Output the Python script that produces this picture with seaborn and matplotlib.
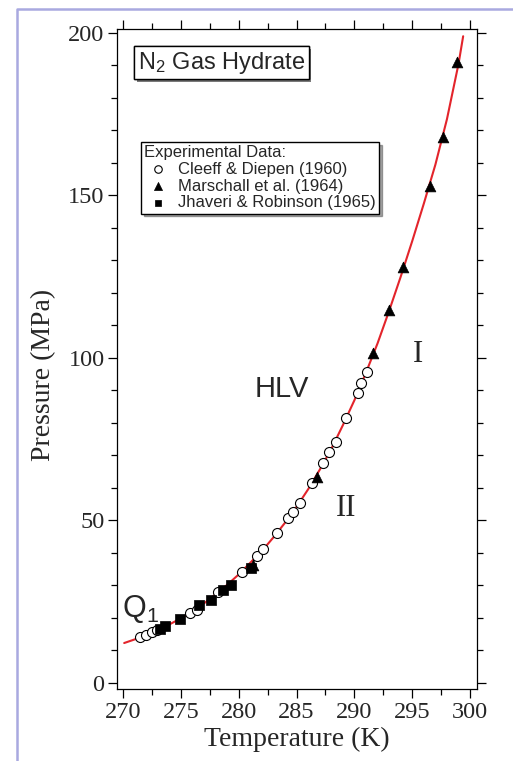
import seaborn as sns
import matplotlib.pyplot as plt
import matplotlib.patheffects as pe
from matplotlib.lines import Line2D
from matplotlib.ticker import MultipleLocator

# equilibrium curve
curve_T = [270.1, 271, 272, 273, 274, 275, 276, 277, 278, 279, 280, 281, 282, 283, 284, 285,
           286, 287, 288, 289, 290, 291, 292, 293, 294, 295, 296, 297, 298, 299, 299.4]
curve_P = [12.3, 13.4, 14.7, 16.3, 18.0, 19.9, 21.9, 24.5, 27.3, 30.2, 33.4, 37.0, 40.6, 44.8, 49.3, 54.2,
           59.6, 65.6, 72.0, 79.3, 87.0, 95.5, 104.5, 114.5, 125.0, 136.0, 147.5, 159.5, 173.5, 190.5, 199.0]

# Cleeff & Diepen (1960)
cleeff_T = [271.5, 272.0, 272.5, 272.9, 275.8, 276.4, 278.2, 280.3, 281.6, 282.1, 283.3, 284.3,
            284.7, 285.3, 286.3, 287.3, 287.8, 288.4, 289.3, 290.3, 290.6, 291.1]
cleeff_P = [14.0, 14.8, 15.7, 16.3, 21.5, 22.5, 28.1, 34.2, 39.1, 41.1, 46.1, 50.7,
            52.5, 55.5, 61.4, 67.6, 71.2, 74.3, 81.4, 89.2, 92.3, 95.8]

# Marschall et al. (1964)
marsch_T = [281.2, 286.8, 291.6, 293.0, 294.2, 296.5, 297.7, 298.9]
marsch_P = [36.3, 63.4, 101.5, 114.8, 128.0, 152.9, 168.0, 191.1]

# Jhaveri & Robinson (1965)
jhav_T = [273.2, 273.6, 274.9, 276.6, 277.6, 278.6, 279.3, 281.1]
jhav_P = [16.6, 17.5, 19.7, 24.0, 25.5, 28.6, 30.3, 35.5]

sns.set_style("ticks")
plt.rcParams['font.family'] = ['Liberation Serif', 'DejaVu Serif']
plt.rcParams['mathtext.default'] = 'regular'

fig = plt.figure(figsize=(5.13, 7.61), dpi=100)
ax = fig.add_axes([0.2281, 0.0946, 0.7018, 0.8673])

sns.lineplot(x=curve_T, y=curve_P, color='#e3242b', lw=1.5, ax=ax, zorder=2,
             sort=False, estimator=None)
sns.scatterplot(x=cleeff_T, y=cleeff_P, marker='o', s=52, color='white', edgecolor='black',
                linewidth=0.8, label='Cleeff & Diepen (1960)', ax=ax, zorder=3)
sns.scatterplot(x=marsch_T, y=marsch_P, marker='^', s=60, color='black', edgecolor='black',
                linewidth=0.5, label='Marschall et al. (1964)', ax=ax, zorder=3)
sns.scatterplot(x=jhav_T, y=jhav_P, marker='s', s=42, color='black', edgecolor='black',
                linewidth=0.5, label='Jhaveri & Robinson (1965)', ax=ax, zorder=3)

ax.set_xlim(269.48, 300.6)
ax.set_ylim(-1.85, 201.23)
ax.xaxis.set_major_locator(MultipleLocator(5))
ax.xaxis.set_minor_locator(MultipleLocator(2.5))
ax.yaxis.set_major_locator(MultipleLocator(50))
ax.yaxis.set_minor_locator(MultipleLocator(10))
ax.tick_params(which='both', direction='out', top=True, right=True, width=0.9,
               color='black', labelsize=17.5, pad=2.5)
ax.tick_params(which='major', length=6.5)
ax.tick_params(which='minor', length=4)
for sp in ax.spines.values():
    sp.set_color('black')
    sp.set_linewidth(0.9)

ax.set_xlabel("Temperature (K)", fontsize=20)
ax.set_ylabel("Pressure (MPa)", fontsize=20)
ax.xaxis.set_label_coords(0.5, -0.058)
ax.yaxis.set_label_coords(-0.17, 0.476)

sans = ['Liberation Sans', 'DejaVu Sans']
t = ax.text(0.29, 0.949, r'N$_2$ Gas Hydrate', transform=ax.transAxes, ha='center', va='center',
            fontsize=17, family=sans,
            bbox=dict(boxstyle='square,pad=0.15', fc='white', ec='black', lw=1))
t.get_bbox_patch().set_path_effects([pe.withSimplePatchShadow(offset=(2, -2), shadow_rgbFace='0.35', alpha=0.8),
                                     pe.Normal()])

ax.text(283.7, 90.5, 'HLV', fontsize=21, family=sans, ha='center', va='center')
ax.text(269.9, 20.3, r'Q$_1$', fontsize=22, family=sans, ha='left', va='baseline')
ax.text(295.5, 101.2, 'I', fontsize=22, ha='center', va='center')
ax.text(289.3, 53.7, 'II', fontsize=22, ha='center', va='center')

handles, labels = ax.get_legend_handles_labels()
leg = ax.legend(handles, labels, title='Experimental Data:', loc='upper left',
                bbox_to_anchor=(0.0667, 0.829), borderaxespad=0, fancybox=False, shadow=True,
                prop={'family': sans, 'size': 12}, title_fontproperties={'family': sans, 'size': 12},
                alignment='left', labelspacing=0.1, borderpad=0.2, handlelength=1.6,
                handletextpad=0.4, markerscale=0.75, framealpha=1)
leg.get_frame().set_edgecolor('black')
leg.get_frame().set_linewidth(1)

# light frame around the figure
bx, by = 17 / 513, 1 - 9 / 761
fig.add_artist(Line2D([bx, bx, 1], [0, by, by], color='#a9a9e0', lw=1.8, transform=fig.transFigure))

fig.savefig("out.png", dpi=100)
